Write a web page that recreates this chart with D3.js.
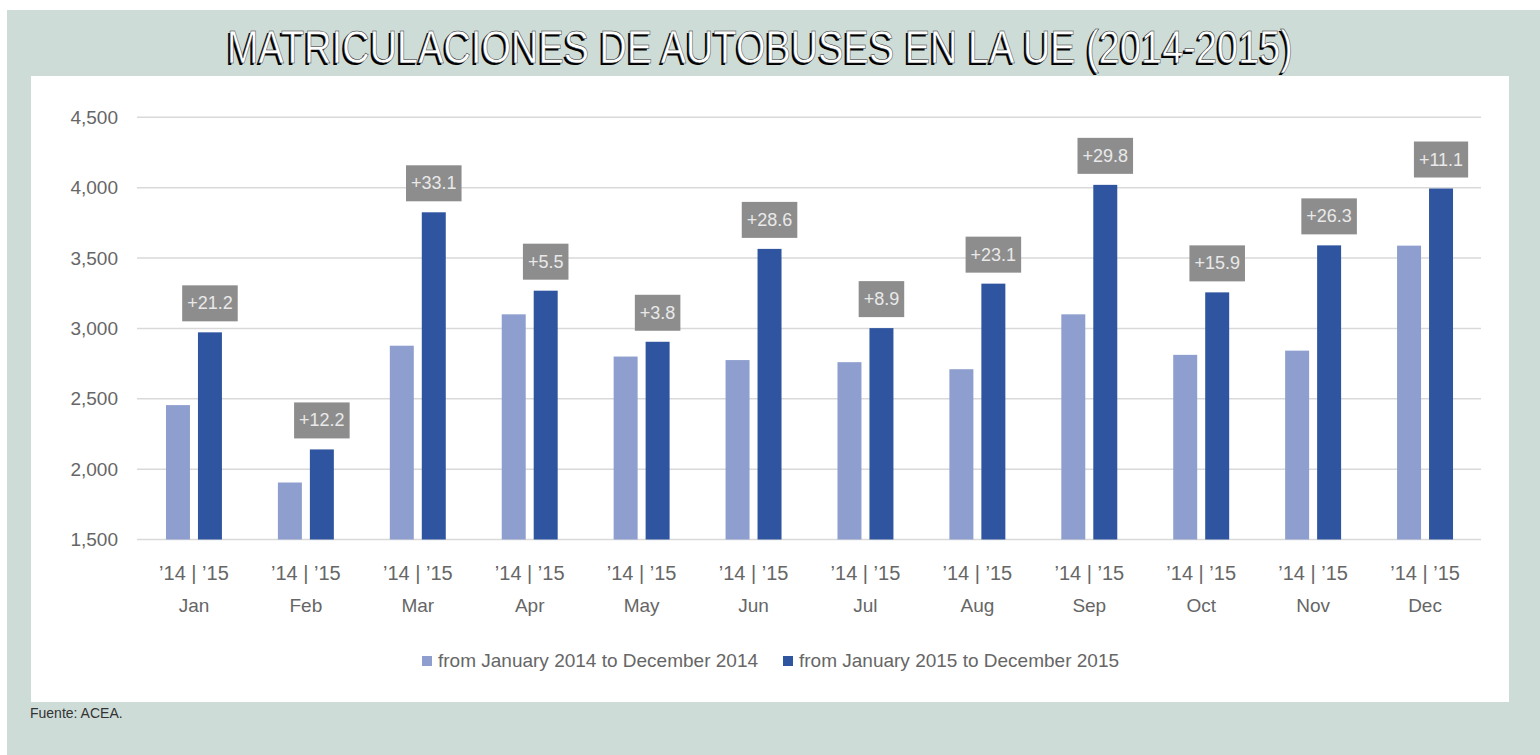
<!DOCTYPE html>
<html>
<head>
<meta charset="utf-8">
<script src="https://cdnjs.cloudflare.com/ajax/libs/d3/7.8.5/d3.min.js"></script>
<style>
  body { margin: 0; background: #fff; }
  svg { display: block; }
</style>
</head>
<body>
<div class="chart"></div>
<script>
// data
var months = ["Jan", "Feb", "Mar", "Apr", "May", "Jun", "Jul", "Aug", "Sep", "Oct", "Nov", "Dec"];
var values2014 = [2455, 1905, 2877, 3100, 2800, 2775, 2760, 2710, 3100, 2812, 2842, 3588];
var values2015 = [2972, 2140, 3825, 3268, 2905, 3565, 3002, 3318, 4020, 3256, 3590, 3994];
var changes = ["+21.2", "+12.2", "+33.1", "+5.5", "+3.8", "+28.6", "+8.9", "+23.1", "+29.8", "+15.9", "+26.3", "+11.1"];
var yTicks = [1500, 2000, 2500, 3000, 3500, 4000, 4500];
var seriesNames = ["from January 2014 to December 2014", "from January 2015 to December 2015"];

var width = 1540,
    height = 755;

var lightBlue = "#8e9fcf",
    darkBlue = "#2f54a0",
    axisFont = "'Liberation Sans Narrow', 'Arial Narrow', 'Liberation Sans', sans-serif";

var svg = d3.select(".chart").append("svg")
    .attr("width", width)
    .attr("height", height);

// frame
svg.append("rect")
    .attr("x", 7).attr("y", 10)
    .attr("width", width - 7).attr("height", height - 10)
    .attr("fill", "#cedcd8");

svg.append("rect")
    .attr("x", 31).attr("y", 76)
    .attr("width", 1478).attr("height", 626)
    .attr("fill", "#ffffff");

// title with shadow
var title = "MATRICULACIONES DE AUTOBUSES EN LA UE (2014-2015)";
svg.append("text")
    .attr("x", 758).attr("y", 65)
    .attr("text-anchor", "middle")
    .attr("font-family", axisFont)
    .attr("font-size", 46)
    .attr("textLength", 1066)
    .attr("lengthAdjust", "spacingAndGlyphs")
    .attr("fill", "#000")
    .text(title);

svg.append("text")
    .attr("x", 760).attr("y", 63)
    .attr("text-anchor", "middle")
    .attr("font-family", axisFont)
    .attr("font-size", 46)
    .attr("textLength", 1066)
    .attr("lengthAdjust", "spacingAndGlyphs")
    .attr("fill", "#fff")
    .attr("stroke", "#222")
    .attr("stroke-width", 0.5)
    .text(title);

// scales
var y = d3.scaleLinear()
    .domain([1500, 4500])
    .range([539.5, 117.3]);

var x0 = d3.scaleBand()
    .domain(months)
    .range([138, 1481])
    .paddingInner(0.5)
    .paddingOuter(0.25);

var x1 = d3.scaleBand()
    .domain(["2014", "2015"])
    .range([0, x0.bandwidth()])
    .paddingInner(0.25)
    .paddingOuter(0);

// gridlines
svg.append("g")
    .attr("class", "grid")
    .selectAll("line")
    .data(yTicks)
    .enter().append("line")
    .attr("x1", 137).attr("x2", 1481)
    .attr("y1", function(d) { return y(d); })
    .attr("y2", function(d) { return y(d); })
    .attr("stroke", "#d9d9d9")
    .attr("stroke-width", 1.5);

// y axis
var yAxis = svg.append("g")
    .attr("transform", "translate(138,0)")
    .call(d3.axisLeft(y).tickValues(yTicks).tickSize(0).tickPadding(20).tickFormat(d3.format(",")));
yAxis.select(".domain").remove();
yAxis.selectAll("text")
    .attr("font-family", axisFont)
    .attr("font-size", 19)
    .attr("fill", "#666");

// bars
var groups = svg.append("g")
    .selectAll("g")
    .data(months)
    .enter().append("g")
    .attr("transform", function(d) { return "translate(" + x0(d) + ",0)"; });

groups.append("rect")
    .attr("x", x1("2014"))
    .attr("width", x1.bandwidth())
    .attr("y", function(d, i) { return y(values2014[i]); })
    .attr("height", function(d, i) { return y(1500) - y(values2014[i]); })
    .attr("fill", lightBlue);

groups.append("rect")
    .attr("x", x1("2015"))
    .attr("width", x1.bandwidth())
    .attr("y", function(d, i) { return y(values2015[i]); })
    .attr("height", function(d, i) { return y(1500) - y(values2015[i]); })
    .attr("fill", darkBlue);

// change labels above the 2015 bar
groups.each(function(d, i) {
    var g = d3.select(this);
    var cx = x1("2015") + x1.bandwidth() / 2;
    var bottom = y(values2015[i]) - 11;
    var box = g.append("rect")
        .attr("fill", "#8d8d8d");
    var t = g.append("text")
        .attr("x", cx)
        .attr("y", bottom - 12)
        .attr("text-anchor", "middle")
        .attr("font-family", axisFont)
        .attr("font-size", 18)
        .attr("fill", "#e9e9e9")
        .text(changes[i]);
    var w = t.node().getComputedTextLength() + 10;
    box.attr("x", cx - w / 2)
        .attr("y", bottom - 36)
        .attr("width", w)
        .attr("height", 36);
});

// x labels
groups.append("text")
    .attr("x", x0.bandwidth() / 2)
    .attr("y", 580)
    .attr("text-anchor", "middle")
    .attr("font-family", axisFont)
    .attr("font-size", 20)
    .attr("fill", "#666")
    .text("\u201914 | \u201915");

groups.append("text")
    .attr("x", x0.bandwidth() / 2)
    .attr("y", 612)
    .attr("text-anchor", "middle")
    .attr("font-family", axisFont)
    .attr("font-size", 19)
    .attr("fill", "#666")
    .text(function(d) { return d; });

// legend
var legend = svg.append("g")
    .selectAll("g")
    .data(seriesNames)
    .enter().append("g")
    .attr("transform", function(d, i) { return "translate(" + (i === 0 ? 422 : 783) + ",661)"; });

legend.append("rect")
    .attr("x", 0).attr("y", -5)
    .attr("width", 10).attr("height", 10)
    .attr("fill", function(d, i) { return i === 0 ? lightBlue : darkBlue; });

legend.append("text")
    .attr("x", 16).attr("y", 6)
    .attr("font-family", axisFont)
    .attr("font-size", 19)
    .attr("fill", "#666")
    .text(function(d) { return d; });

// source
svg.append("text")
    .attr("x", 30).attr("y", 718)
    .attr("font-family", "'Liberation Sans', Arial, sans-serif")
    .attr("font-size", 14)
    .attr("fill", "#333")
    .text("Fuente: ACEA.");
</script>
</body>
</html>
